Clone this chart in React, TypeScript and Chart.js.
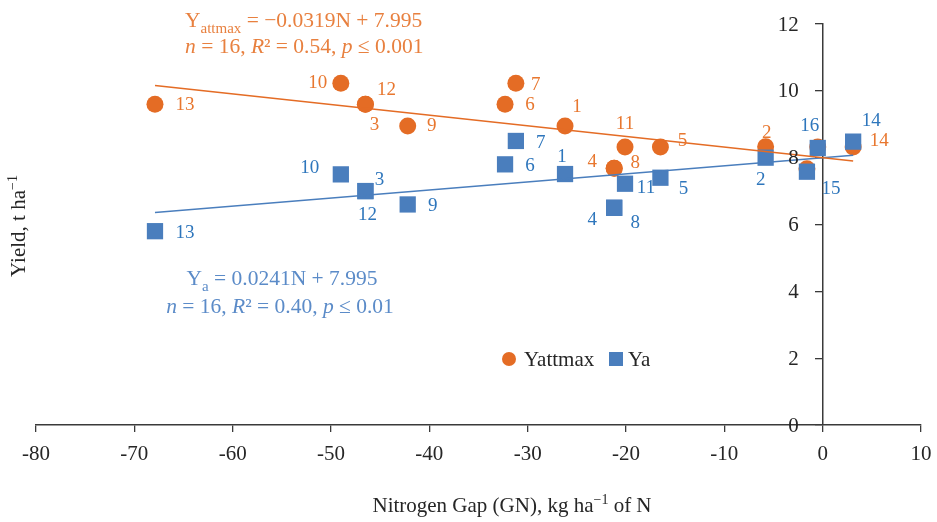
import React, { useEffect, useRef } from 'react';
import { Chart, registerables } from 'chart.js';

Chart.register(...registerables);

// ---------- data ----------
const pointIds = ['1', '2', '3', '4', '5', '6', '7', '8', '9', '10', '11', '12', '13', '14', '15', '16'];
const nitrogenGap = [-26.2, -5.8, -46.5, -21.2, -16.5, -32.3, -31.2, -21.2, -42.2, -49.0, -20.1, -46.5, -67.9, 3.1, -1.6, -0.5];
const yattmaxValues = [8.95, 8.33, 9.6, 7.68, 8.32, 9.6, 10.23, 7.68, 8.95, 10.23, 8.32, 9.6, 9.6, 8.32, 7.67, 8.32];
const yaValues = [7.51, 8.0, 7.0, 6.5, 7.4, 7.8, 8.5, 6.5, 6.6, 7.5, 7.22, 7.0, 5.8, 8.48, 7.58, 8.29];

const trendN = [-67.9, 3.1];
const yattmaxTrend = [10.16, 7.9];
const yaTrend = [6.36, 8.07];

const xTickMin = -80;
const xTickMax = 10;
const xTickStep = 10;
const xTickLabels = ['-80', '-70', '-60', '-50', '-40', '-30', '-20', '-10', '0', '10'];
const yTickMin = 0;
const yTickMax = 12;
const yTickStep = 2;
const yTickLabels = ['0', '2', '4', '6', '8', '10', '12'];

// label offsets (px) relative to the marker centre; null = hidden
const yattmaxLabelOffsets: ([number, number] | null)[] = [
  [12, -19], [1, -14], [9, 21], [-22, -6], [22, -6], [25, 1], [20, 2], [21, -5],
  [24, 0], [-23, 0], [0, -23], [21, -14], [30, 1], [26, -6], null, null,
];
const yaLabelOffsets: ([number, number] | null)[] = [
  [-3, -17], [-5, 22], [14, -11], [-22, 12], [23, 11], [25, 2], [25, 2], [21, 15],
  [25, 2], [-31, -6], [21, 4], [2, 24], [30, 2], [18, -21], [24, 17], [-8, -22],
];

// ---------- style ----------
const FONT = '"Liberation Serif", "Times New Roman", serif';
const ORANGE = '#E46C25';
const ORANGE_TEXT = '#E8772F';
const ORANGE_EQ = '#E8803F';
const BLUE = '#4A7EBD';
const BLUE_TEXT = '#2E76BC';
const BLUE_EQ = '#5B8BC8';
const AXIS = '#3A3A3A';
const TEXT = '#262626';

type Run = { t: string; italic?: boolean; sub?: boolean; sup?: boolean };

function drawRich(
  ctx: CanvasRenderingContext2D,
  runs: Run[],
  x: number,
  y: number,
  size: number,
  color: string,
  align: 'left' | 'center' | 'right'
) {
  const fontFor = (r: Run) =>
    `${r.italic ? 'italic ' : ''}${r.sub || r.sup ? Math.round(size * 0.68) : size}px ${FONT}`;
  const widths = runs.map((r) => {
    ctx.font = fontFor(r);
    return ctx.measureText(r.t).width;
  });
  const total = widths.reduce((a, b) => a + b, 0);
  let cx = align === 'center' ? x - total / 2 : align === 'right' ? x - total : x;
  ctx.fillStyle = color;
  ctx.textAlign = 'left';
  ctx.textBaseline = 'alphabetic';
  runs.forEach((r, i) => {
    ctx.font = fontFor(r);
    const dy = r.sub ? size * 0.3 : r.sup ? -size * 0.38 : 0;
    ctx.fillText(r.t, cx, y + dy);
    cx += widths[i];
  });
}

const annotationPlugin = {
  id: 'annotations',
  afterDatasetsDraw(chart: any) {
    const ctx: CanvasRenderingContext2D = chart.ctx;
    const xs = chart.scales.x;
    const ys = chart.scales.y;
    ctx.save();
    ctx.font = `19px ${FONT}`;
    ctx.textAlign = 'center';
    ctx.textBaseline = 'middle';
    const drawLabels = (vals: number[], offs: ([number, number] | null)[], color: string) => {
      ctx.fillStyle = color;
      vals.forEach((v, i) => {
        const o = offs[i];
        if (!o) return;
        const px = xs.getPixelForValue(nitrogenGap[i]);
        const py = ys.getPixelForValue(v);
        ctx.fillText(pointIds[i], px + o[0], py + o[1]);
      });
    };
    drawLabels(yattmaxValues, yattmaxLabelOffsets, ORANGE_TEXT);
    drawLabels(yaValues, yaLabelOffsets, BLUE_TEXT);
    ctx.restore();
  },
  afterDraw(chart: any) {
    const ctx: CanvasRenderingContext2D = chart.ctx;
    const xs = chart.scales.x;
    const ys = chart.scales.y;
    ctx.save();
    // tick labels
    const axisX = xs.getPixelForValue(0);
    const axisY = ys.getPixelForValue(0);
    ctx.font = `21px ${FONT}`;
    ctx.fillStyle = TEXT;
    ctx.textBaseline = 'middle';
    ctx.textAlign = 'right';
    yTickLabels.forEach((lab) => {
      ctx.fillText(lab, axisX - 24, ys.getPixelForValue(Number(lab)) + 1);
    });
    ctx.textAlign = 'center';
    xTickLabels.forEach((lab) => {
      ctx.fillText(lab, xs.getPixelForValue(Number(lab)), axisY + 29);
    });
    // equations
    drawRich(ctx, [{ t: 'Y' }, { t: 'attmax', sub: true }, { t: ' = −0.0319N + 7.995' }], 185, 27, 21.5, ORANGE_EQ, 'left');
    drawRich(
      ctx,
      [{ t: 'n', italic: true }, { t: ' = 16, ' }, { t: 'R', italic: true }, { t: '² = 0.54, ' }, { t: 'p', italic: true }, { t: ' ≤ 0.001' }],
      185, 53, 21.5, ORANGE_EQ, 'left'
    );
    drawRich(ctx, [{ t: 'Y' }, { t: 'a', sub: true }, { t: ' = 0.0241N + 7.995' }], 282, 285, 21.5, BLUE_EQ, 'center');
    drawRich(
      ctx,
      [{ t: 'n', italic: true }, { t: ' = 16, ' }, { t: 'R', italic: true }, { t: '² = 0.40, ' }, { t: 'p', italic: true }, { t: ' ≤ 0.01' }],
      280, 313, 21.5, BLUE_EQ, 'center'
    );
    // legend
    ctx.fillStyle = ORANGE;
    ctx.beginPath();
    ctx.arc(509, 359, 7, 0, Math.PI * 2);
    ctx.fill();
    drawRich(ctx, [{ t: 'Yattmax' }], 524, 366, 21, TEXT, 'left');
    ctx.fillStyle = BLUE;
    ctx.fillRect(609, 352, 14, 14);
    drawRich(ctx, [{ t: 'Ya' }], 628, 366, 21, TEXT, 'left');
    // axis titles
    drawRich(ctx, [{ t: 'Nitrogen Gap (GN), kg ha' }, { t: '−1', sup: true }, { t: ' of N' }], 512, 512, 21, TEXT, 'center');
    ctx.translate(25, 226);
    ctx.rotate(-Math.PI / 2);
    drawRich(ctx, [{ t: 'Yield, t ha' }, { t: '−1', sup: true }], 0, 0, 21, TEXT, 'center');
    ctx.restore();
  },
};

export default function App() {
  const ref = useRef<HTMLCanvasElement>(null);
  useEffect(() => {
    document.body.style.margin = '0';
    const canvas = ref.current;
    if (!canvas) return;
    const toPts = (vals: number[], ns: number[]) => vals.map((v, i) => ({ x: ns[i], y: v }));
    const chart = new Chart(canvas, {
      type: 'scatter',
      data: {
        datasets: [
          {
            label: 'Yattmax trend',
            data: toPts(yattmaxTrend, trendN),
            showLine: true,
            borderColor: ORANGE,
            borderWidth: 1.5,
            pointRadius: 0,
            fill: false,
          },
          {
            label: 'Ya trend',
            data: toPts(yaTrend, trendN),
            showLine: true,
            borderColor: BLUE,
            borderWidth: 1.5,
            pointRadius: 0,
            fill: false,
          },
          {
            label: 'Ya',
            data: toPts(yaValues, nitrogenGap),
            pointStyle: 'rect',
            pointRadius: 11.5,
            backgroundColor: BLUE,
            borderWidth: 0,
          },
          {
            label: 'Yattmax',
            data: toPts(yattmaxValues, nitrogenGap),
            pointStyle: 'circle',
            pointRadius: 8.5,
            backgroundColor: ORANGE,
            borderWidth: 0,
          },
        ],
      } as any,
      options: {
        responsive: false,
        animation: false,
        layout: { padding: { left: 36, right: 16, top: 24, bottom: 0 } },
        plugins: { legend: { display: false }, tooltip: { enabled: false } },
        scales: {
          x: {
            type: 'linear',
            min: xTickMin,
            max: xTickMax,
            ticks: { stepSize: xTickStep, display: false },
            grid: { display: true, drawOnChartArea: false, drawTicks: true, tickLength: 7, color: AXIS, lineWidth: 1.3 },
            border: { display: true, color: AXIS, width: 1.5 },
            afterFit: (s: any) => {
              s.height = 97;
            },
          },
          y: {
            type: 'linear',
            min: yTickMin,
            max: yTickMax,
            position: { x: 0 },
            ticks: { stepSize: yTickStep, display: false },
            grid: { display: true, drawOnChartArea: false, drawTicks: true, tickLength: 7, color: AXIS, lineWidth: 1.3 },
            border: { display: true, color: AXIS, width: 1.5 },
          },
        },
      } as any,
      plugins: [annotationPlugin],
    });
    return () => chart.destroy();
  }, []);
  return (
    <div style={{ width: 937, height: 522 }}>
      <canvas ref={ref} width={937} height={522} style={{ display: 'block' }} />
    </div>
  );
}
